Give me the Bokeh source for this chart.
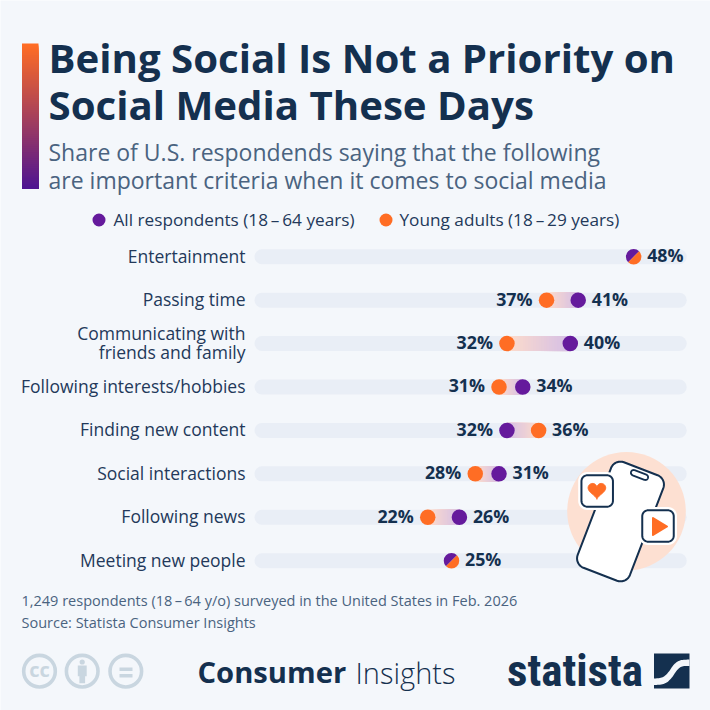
import numpy as np
from bokeh.plotting import figure
from bokeh.models import Range1d
from bokeh.core.properties import value
from bokeh.embed import file_html
from bokeh.resources import INLINE

# ---------- data ----------
categories = ["Entertainment", "Passing time", "Communicating with\nfriends and family",
              "Following interests/hobbies", "Finding new content", "Social interactions",
              "Following news", "Meeting new people"]
all_respondents = [48, 41, 40, 34, 32, 31, 26, 25]
young_adults = [48, 37, 32, 31, 36, 28, 22, 25]
axis_min = 0.13
axis_max = 54.7
title_lines = ["Being Social Is Not a Priority on", "Social Media These Days"]
subtitle_lines = ["Share of U.S. respondends saying that the following",
                  "are important criteria when it comes to social media"]
legend_labels = ["All respondents (18\u2009\u2013\u200964 years)", "Young adults (18\u2009\u2013\u200929 years)"]
footer_lines = ["1,249 respondents (18\u2009\u2013\u200964 y/o) surveyed in the United States in Feb. 2026",
                "Source: Statista Consumer Insights"]

# ---------- style ----------
BG = "#f4f7fb"
BAR = "#e9eef6"
NAVY = "#14304f"
PURPLE = "#651a9c"
ORANGE = "#ff6d24"
SUB = "#4a6380"
GREY = "#c9d6e0"
FONT = "Open Sans"
PX0 = 253.0      # reference pixel of value 0
PXV = 7.92       # reference pixels per percent
ROW0 = 256.2     # reference pixel of first row
ROWH = 43.43

p = figure(width=710, height=710, output_backend="svg", toolbar_location=None,
           min_border=0, outline_line_color=None, background_fill_color=BG,
           border_fill_color=BG,
           x_range=Range1d((0 - PX0) / PXV, (710 - PX0) / PXV),
           y_range=Range1d((710 - ROW0) / ROWH, (0 - ROW0) / ROWH))
p.axis.visible = False
p.grid.visible = False
p.extra_x_ranges = {"px": Range1d(0, 710)}
p.extra_y_ranges = {"px": Range1d(710, 0)}
PXR = dict(x_range_name="px", y_range_name="px")


def mix(c1, c2, t):
    a = [int(c1[i:i + 2], 16) for i in (1, 3, 5)]
    b = [int(c2[i:i + 2], 16) for i in (1, 3, 5)]
    return "#%02x%02x%02x" % tuple(round(a[i] + (b[i] - a[i]) * t) for i in range(3))


def ptext(x, y, text, size, color=NAVY, bold=False, align="left", font=FONT, baseline="middle"):
    p.text(x=[x], y=[y], text=[text], text_font=value(font), text_font_size=f"{size}px",
           text_color=color, text_font_style="bold" if bold else "normal",
           text_align=align, text_baseline=baseline, **PXR)


def rrect(cx, cy, w, h, r, angle=0.0, n=10):
    pts = []
    for sx, sy, a0 in [(1, -1, -90), (1, 1, 0), (-1, 1, 90), (-1, -1, 180)]:
        ox, oy = sx * (w / 2 - r), sy * (h / 2 - r)
        for a in np.radians(np.linspace(a0, a0 + 90, n)):
            pts.append((ox + r * np.cos(a), oy + r * np.sin(a)))
    pts = np.array(pts)
    c, s = np.cos(np.radians(angle)), np.sin(np.radians(angle))
    return list(cx + pts[:, 0] * c - pts[:, 1] * s), list(cy + pts[:, 0] * s + pts[:, 1] * c)


def smooth(pts, k=3):
    pts = np.array(pts, dtype=float)
    for _ in range(k):
        q = 0.75 * pts[:-1] + 0.25 * pts[1:]
        r = 0.25 * pts[:-1] + 0.75 * pts[1:]
        mid = np.empty((len(q) * 2, 2))
        mid[0::2], mid[1::2] = q, r
        pts = np.vstack([pts[:1], mid, pts[-1:]])
    return pts


# ---------- header ----------
strip_top, strip_bottom = 43.0, 188.0
n = 72
ys = np.linspace(strip_top, strip_bottom, n + 1)
for i in range(n):
    p.quad(left=[21.5], right=[38], top=[ys[i]], bottom=[strip_bottom],
           fill_color=mix(ORANGE, "#4f1491", i / (n - 1)), line_color=None, **PXR)
ptext(48, 57, title_lines[0], 40.2, bold=True)
ptext(48, 104, title_lines[1], 40.2, bold=True)
ptext(48, 151, subtitle_lines[0], 23, color=SUB)
ptext(48, 179, subtitle_lines[1], 23, color=SUB)

# legend
p.scatter(x=[98.5], y=[219.5], size=13, fill_color=PURPLE, line_color=None, **PXR)
ptext(113, 218.5, legend_labels[0], 17.2, color="#23395a")
p.scatter(x=[385.5], y=[219.5], size=13, fill_color=ORANGE, line_color=None, **PXR)
ptext(399, 218.5, legend_labels[1], 17.2, color="#23395a")

# ---------- rows ----------
rows = list(range(len(categories)))
cap = 7.5 / PXV
p.segment(x0=[axis_min + cap] * len(rows), x1=[axis_max - cap] * len(rows), y0=rows, y1=rows,
          line_color=BAR, line_width=15, line_cap="round")

# connector gradients between the two values of each row
for r, a, y in zip(rows, all_respondents, young_adults):
    if a == y:
        continue
    steps = 24
    xs = np.linspace(y, a, steps + 1)
    for i in range(steps):
        p.quad(left=[xs[i]], right=[a], top=[r - 7.5 / ROWH], bottom=[r + 7.5 / ROWH],
               fill_color=mix("#fddccb", "#d5bfe6", i / (steps - 1)), line_color=None)

# category labels
p.text(x=[-1.01] * len(rows), y=rows, text=categories, text_font=value(FONT), text_font_size="17.5px",
       y_offset=-1, text_color="#23395a", text_align="right", text_baseline="middle", text_line_height=0.8)

# dots
dif = [i for i in rows if all_respondents[i] != young_adults[i]]
same = [i for i in rows if all_respondents[i] == young_adults[i]]
p.scatter(x=[young_adults[i] for i in dif], y=dif, size=15.5, fill_color=ORANGE, line_color=None)
p.scatter(x=[all_respondents[i] for i in dif], y=dif, size=15.5, fill_color=PURPLE, line_color=None)
p.wedge(x=[all_respondents[i] for i in same], y=same, radius=7.75, radius_units="screen",
        start_angle=np.radians(45), end_angle=np.radians(225), fill_color=PURPLE, line_color=None)
p.wedge(x=[all_respondents[i] for i in same], y=same, radius=7.75, radius_units="screen",
        start_angle=np.radians(225), end_angle=np.radians(45), fill_color=ORANGE, line_color=None)

# value labels
for r, a, y in zip(rows, all_respondents, young_adults):
    hi, lo = max(a, y), min(a, y)
    p.text(x=[hi], y=[r], text=[f"{hi}%"], x_offset=13.5, y_offset=-1.5, text_font=value(FONT), text_font_size="17.8px",
           text_font_style="bold", text_color=NAVY, text_align="left", text_baseline="middle")
    if a != y:
        p.text(x=[lo], y=[r], text=[f"{lo}%"], x_offset=-14, y_offset=-1.5, text_font=value(FONT), text_font_size="17.8px",
               text_font_style="bold", text_color=NAVY, text_align="right", text_baseline="middle")

# ---------- illustration ----------
p.circle(x=[626], y=[510.7], radius=59.3, radius_units="screen", fill_color="#fde0d2", line_color=None, **PXR)
lw = 2.0
x, y = rrect(620, 521, 56, 113, 10, 21)
p.patch(x, y, fill_color="white", line_color=NAVY, line_width=lw, **PXR)
x, y = rrect(639, 474.5, 18, 5.5, 2.7, 21)
p.patch(x, y, fill_color="white", line_color=NAVY, line_width=1.8, **PXR)
for cx, cy in [(596.7, 490.5), (657.5, 525.5)]:
    x, y = rrect(cx, cy, 38, 38, 9)
    p.patch(x, y, fill_color="white", line_color=None, **PXR)
    x, y = rrect(cx, cy, 31.5, 31.5, 6)
    p.patch(x, y, fill_color="white", line_color=NAVY, line_width=lw, **PXR)
t = np.linspace(0, 2 * np.pi, 80)
hx = 596.4 + 0.55 * 16 * np.sin(t) ** 3
hy = 489.5 - 0.55 * (13 * np.cos(t) - 5 * np.cos(2 * t) - 2 * np.cos(3 * t) - np.cos(4 * t))
p.patch(list(hx), list(hy), fill_color=ORANGE, line_color=ORANGE, line_width=1, **PXR)
p.patch([652.5, 666.5, 652.5], [517.5, 526, 534.5], fill_color=ORANGE, line_color=ORANGE,
        line_width=2, line_join="round", **PXR)

# ---------- footer ----------
ptext(21, 599.5, footer_lines[0], 14.5, color=SUB)
ptext(21, 621.5, footer_lines[1], 14.5, color=SUB)

# licence icons
for cx in (39, 81.7, 125.3):
    p.circle(x=[cx], y=[670.7], radius=15.8, radius_units="screen", fill_color=None,
             line_color=GREY, line_width=3.6, **PXR)
ptext(39, 669, "cc", 20, color=GREY, bold=True, align="center")
p.circle(x=[81.7], y=[661.5], radius=2.6, radius_units="screen", fill_color=GREY, line_color=None, **PXR)
p.patch([77.3, 86.2, 86.2, 84.6, 84.6, 78.9, 78.9, 77.3], [665, 665, 675.7, 675.7, 682.7, 682.7, 675.7, 675.7],
        fill_color=GREY, line_color=None, **PXR)
p.quad(left=[119, 119], right=[132, 132], top=[667, 673.5], bottom=[670.5, 677],
       fill_color=GREY, line_color=None, **PXR)

ptext(197, 671.5, "Consumer", 29.2, bold=True)
ptext(355, 671.5, "Insights", 29, font="'Open Sans Light','Noto Sans Light','Lato Light','Open Sans'")
ptext(506.5, 670, "statista", 45, bold=True, font="'Roboto Condensed','Open Sans Condensed','Noto Sans Condensed','DejaVu Sans Condensed'")

# logo
p.quad(left=[653.5], right=[689], top=[653], bottom=[688], fill_color=NAVY, line_color=None, **PXR)
upper = smooth([(689, 659), (679, 659.5), (673, 664), (668, 672), (662, 677.5), (653.5, 678)])
lower = smooth([(653.5, 684.5), (664, 684), (671, 678), (676, 670), (681, 665.5), (689, 665.5)])
band = np.vstack([upper, lower])
p.patch(list(band[:, 0]), list(band[:, 1]), fill_color=BG, line_color=None, **PXR)

open("out.html", "w").write(file_html(p, INLINE, "chart"))
